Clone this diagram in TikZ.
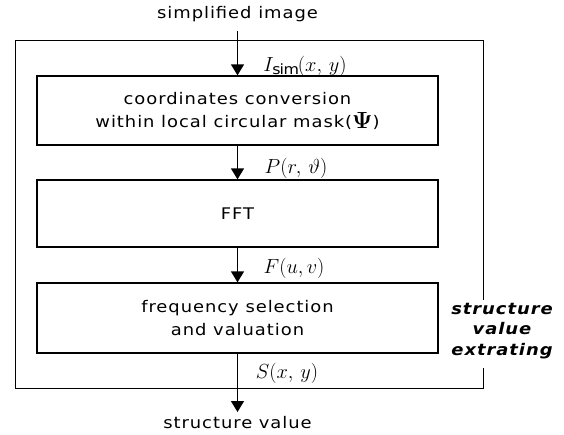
\documentclass[tikz,border=0pt]{standalone}
\usepackage{amsmath,bm}
\usepackage{fontspec}
\setmainfont[FakeStretch=1.12,LetterSpace=6]{DejaVu Sans}
\usetikzlibrary{arrows.meta}
\begin{document}
\begin{tikzpicture}[x=1pt,y=-1pt,
  blk/.style={draw,line width=1.3pt,minimum width=401pt,inner sep=0pt,align=center,font=\fontsize{16}{23}\selectfont},
  txt/.style={inner sep=0pt,font=\fontsize{16}{19}\selectfont},
  lbl/.style={inner sep=0pt,font=\fontsize{17.28}{19}\selectfont,scale=1.18,transform shape},
  flow/.style={line width=1.3pt,-{Triangle[width=13pt,length=11pt]}},
  frame/.style={line width=1pt}]
\useasboundingbox (0,0) rectangle (564,434);
\node[txt] (in) at (237.5,14) {simplified image};
\coordinate (inEnd) at (237.5,31);
\node[blk,minimum height=69pt] (b1) at (237.5,110.5) {coordinates conversion\\within local circular mask(\raisebox{-1pt}{\scalebox{1.35}{$\bm{\Psi}$}})};
\node[blk,minimum height=67pt] (b2) at (237.5,213.5) {FFT};
\node[blk,minimum height=70pt] (b3) at (237.5,318) {frequency selection\\and valuation};
\coordinate (outEnd) at (237.5,412);
\node[txt] (out) at (237.5,423) {structure value};
\node[align=center,inner sep=0pt,font=\fontsize{16}{20.5}\selectfont\bfseries\itshape] (sve) at (502,331) {structure\\value\\extrating};
\coordinate (fTR) at (483,40);
\coordinate (fBL) at (15,388);
\draw[frame] (483,300) -- (fTR) -- (fBL |- fTR) -- (fBL) -- (fTR |- fBL) -- (483,368);
\draw[flow] (inEnd) -- (b1.north);
\draw[flow] (b1.south) -- (b2.north);
\draw[flow] (b2.south) -- (b3.north);
\draw[flow] (b3.south) -- (outEnd);
\node[lbl] (l1) at (305,66) {$I_{\mathrm{sim}}(x,\,y)$};
\node[lbl] (l2) at (296,168) {$P(r,\,\vartheta)$};
\node[lbl] (l3) at (294,268) {$F(u,v)$};
\node[lbl] (l4) at (287,373) {$S(x,\,y)$};
\end{tikzpicture}
\end{document}
